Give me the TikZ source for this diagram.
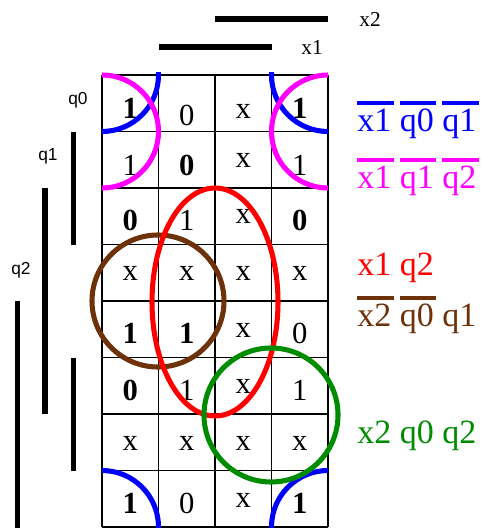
\documentclass[tikz,border=0pt]{standalone}
\usepackage{fontspec}
\setmainfont{Liberation Serif}
\newfontfamily\smallsans{Liberation Sans}
\definecolor{kbrown}{RGB}{110,50,10}
\definecolor{kgreen}{RGB}{0,140,0}
\definecolor{kblue}{RGB}{0,0,255}
\definecolor{kmag}{RGB}{255,0,255}
\definecolor{kred}{RGB}{255,0,0}
\newsavebox\negbarbox
\newcommand\negbar[1]{\sbox\negbarbox{#1}\rlap{\rule[19.5pt]{\dimexpr\wd\negbarbox+2pt\relax}{3pt}}\usebox\negbarbox}
\begin{document}
\begin{tikzpicture}[x=0.75pt,y=-0.75pt,
  cell/.style={font=\fontsize{23}{23}\selectfont, anchor=base, inner sep=0pt},
  bcell/.style={font=\fontsize{23}{23}\selectfont\bfseries, anchor=base, inner sep=0pt},
  gridline/.style={line width=0.8pt},
  varbar/.style={line width=4pt},
  loopline/.style={line width=3.8pt},
  term/.style={font=\fontsize{25.5}{26}\selectfont, anchor=base west, inner sep=0pt},
  varlbl/.style={font=\fontsize{16}{16}\selectfont, inner sep=0pt},
  sidelbl/.style={font=\smallsans\fontsize{13}{13}\selectfont, inner sep=0pt}]
\useasboundingbox (0,0) rectangle (482,528);

% grid
\foreach \i in {0,...,4} \draw[gridline] ({102+56.5*\i},75) -- ({102+56.5*\i},527);
\foreach \j in {0,...,8} \draw[gridline] (102,{75+56.5*\j}) -- (328,{75+56.5*\j});

% cells
\node[bcell] (c11) at (130.25,118) {1};
\node[cell]  (c12) at (186.75,125) {0};
\node[cell]  (c13) at (243.25,118) {x};
\node[bcell] (c14) at (299.75,118) {1};
\node[cell]  (c21) at (130.25,175) {1};
\node[bcell] (c22) at (186.75,175) {0};
\node[cell]  (c23) at (243.25,167) {x};
\node[cell]  (c24) at (299.75,175) {1};
\node[bcell] (c31) at (130.25,230) {0};
\node[cell]  (c32) at (186.75,230) {1};
\node[cell]  (c33) at (243.25,223) {x};
\node[bcell] (c34) at (299.75,230) {0};
\node[cell]  (c41) at (130.25,280) {x};
\node[cell]  (c42) at (186.75,280) {x};
\node[cell]  (c43) at (243.25,280) {x};
\node[cell]  (c44) at (299.75,280) {x};
\node[bcell] (c51) at (130.25,343) {1};
\node[bcell] (c52) at (186.75,343) {1};
\node[cell]  (c53) at (243.25,337) {x};
\node[cell]  (c54) at (299.75,343) {0};
\node[bcell] (c61) at (130.25,400) {0};
\node[cell]  (c62) at (186.75,400) {1};
\node[cell]  (c63) at (243.25,393) {x};
\node[cell]  (c64) at (299.75,400) {1};
\node[cell]  (c71) at (130.25,450) {x};
\node[cell]  (c72) at (186.75,450) {x};
\node[cell]  (c73) at (243.25,450) {x};
\node[cell]  (c74) at (299.75,450) {x};
\node[bcell] (c81) at (130.25,513) {1};
\node[cell]  (c82) at (186.75,513) {0};
\node[cell]  (c83) at (243.25,507) {x};
\node[bcell] (c84) at (299.75,513) {1};

% variable bars
\draw[varbar] (215,19) -- (328,19);
\draw[varbar] (158.5,47) -- (271.5,47);
\node[varlbl] (lx2) at (370,19) {x2};
\node[varlbl] (lx1) at (312,47) {x1};
\draw[varbar] (73.5,131.5) -- (73.5,244.5);
\draw[varbar] (73.5,357.5) -- (73.5,470.5);
\draw[varbar] (45,188) -- (45,414);
\draw[varbar] (17.5,301) -- (17.5,528);
\node[sidelbl] (lq0) at (78,100) {q0};
\node[sidelbl] (lq1) at (48,156) {q1};
\node[sidelbl] (lq2) at (21,270) {q2};

% loops
\begin{scope}
  \clip (102,72.5) rectangle (328,529);
  \draw[loopline,kblue] (102,75) circle[radius=56.5];
  \draw[loopline,kblue] (328,75) circle[radius=56.5];
  \draw[loopline,kblue] (102,527) circle[radius=56.5];
  \draw[loopline,kblue] (328,527) circle[radius=56.5];
  \draw[loopline,kmag] (102,131.5) circle[radius=56.5];
  \draw[loopline,kmag] (328,131.5) circle[radius=56.5];
\end{scope}
\draw[loopline,kbrown] (158,301) circle[radius=66];
\draw[loopline,kred] (215,302) ellipse[x radius=63,y radius=114];
\draw[loopline,kgreen] (271,415) circle[radius=67];

% terms
\node[term,text=kblue] (tblue) at (357,131) {\negbar{x1} \negbar{q0} \negbar{q1}};
\node[term,text=kmag] (tmag) at (357,188) {\negbar{x1} \negbar{q1} \negbar{q2}};
\node[term,text=kred] (tred) at (357,275) {x1 q2};
\node[term,text=kbrown] (tbrown) at (357,326) {\negbar{x2} \negbar{q0} q1};
\node[term,text=kgreen] (tgreen) at (357,443) {x2 q0 q2};
\end{tikzpicture}
\end{document}
